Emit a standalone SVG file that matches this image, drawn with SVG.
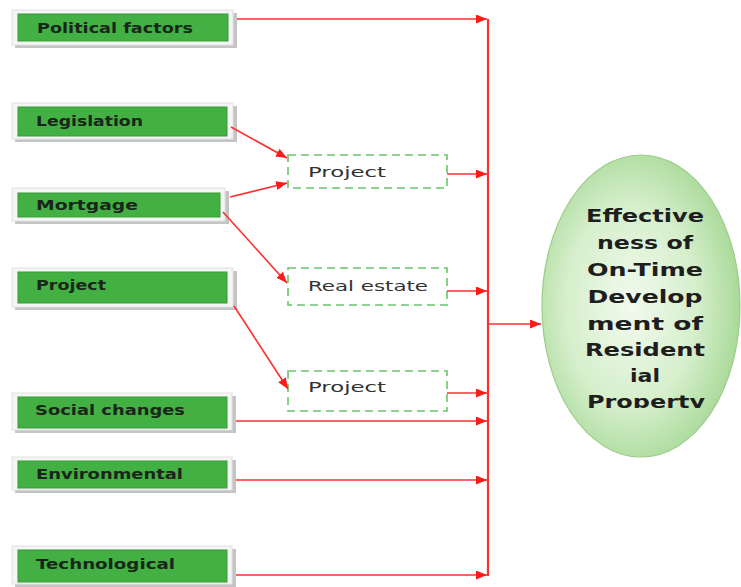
<svg xmlns="http://www.w3.org/2000/svg" width="741" height="587" viewBox="0 0 741 587">
  <style>
    .shadow { fill: #c4c4c4; }
    .frame { fill: #f5f5f5; stroke: #e2e2e2; stroke-width: 1; }
    .green { fill: #43b043; stroke: #379c37; stroke-width: 1; }
    .lbl { font-family: "DejaVu Sans", "Liberation Sans", sans-serif; font-size: 13.5px; font-weight: bold; fill: #1a261a; }
    .dash { fill: #ffffff; stroke: #6cc46c; stroke-width: 1.6; stroke-dasharray: 8 5; }
    .mid { font-family: "DejaVu Sans", "Liberation Sans", sans-serif; font-size: 14px; fill: #333333; }
    .link { fill: none; stroke: #ff2f2f; stroke-width: 1.6; }
    .trunk { fill: none; stroke: #ff2f2f; stroke-width: 2.2; }
    .goal { font-family: "DejaVu Sans", "Liberation Sans", sans-serif; font-size: 18px; font-weight: bold; fill: #1e1e1e; text-anchor: middle; }
  </style>
  <defs>
    <marker id="arrow" markerUnits="userSpaceOnUse" markerWidth="12" markerHeight="10" refX="11" refY="4.5" orient="auto">
      <path d="M0,0 L11,4.5 L0,9 Z" fill="#ff1a1a"/>
    </marker>
    <radialGradient id="goalFill" cx="0.45" cy="0.5" r="0.6">
      <stop offset="0" stop-color="#f2faee"/>
      <stop offset="0.55" stop-color="#d6efcc"/>
      <stop offset="1" stop-color="#9fd58e"/>
    </radialGradient>
    <!-- trims the descender of the last line -->
    <clipPath id="goalClip">
      <rect x="540" y="150" width="201" height="258"/>
    </clipPath>
  </defs>

  <rect width="741" height="587" fill="#ffffff"/>

  <!-- factor boxes -->
  <g id="political">
    <rect class="shadow" x="15" y="13" width="222" height="35"/>
    <rect class="frame" x="12" y="10" width="221" height="35"/>
    <rect class="green" x="18" y="14" width="210" height="27"/>
    <text class="lbl" x="37" y="33" textLength="156" lengthAdjust="spacingAndGlyphs">Political factors</text>
  </g>
  <g id="legislation">
    <rect class="shadow" x="15" y="106" width="222" height="36"/>
    <rect class="frame" x="12" y="103" width="221" height="36"/>
    <rect class="green" x="18" y="107" width="209" height="29"/>
    <text class="lbl" x="36" y="126" textLength="107" lengthAdjust="spacingAndGlyphs">Legislation</text>
  </g>
  <g id="mortgage">
    <rect class="shadow" x="15" y="191" width="214" height="33"/>
    <rect class="frame" x="12" y="188" width="213" height="33"/>
    <rect class="green" x="18" y="193" width="202" height="24"/>
    <text class="lbl" x="36" y="210" textLength="102" lengthAdjust="spacingAndGlyphs">Mortgage</text>
  </g>
  <g id="project-factor">
    <rect class="shadow" x="15" y="271" width="222" height="39"/>
    <rect class="frame" x="12" y="268" width="221" height="39"/>
    <rect class="green" x="18" y="272" width="209" height="31"/>
    <text class="lbl" x="36" y="290" textLength="70" lengthAdjust="spacingAndGlyphs">Project</text>
  </g>
  <g id="social">
    <rect class="shadow" x="15" y="396" width="221" height="37"/>
    <rect class="frame" x="12" y="393" width="220" height="37"/>
    <rect class="green" x="18" y="397" width="209" height="31"/>
    <text class="lbl" x="35" y="415" textLength="150" lengthAdjust="spacingAndGlyphs">Social changes</text>
  </g>
  <g id="environmental">
    <rect class="shadow" x="15" y="460" width="221" height="33"/>
    <rect class="frame" x="12" y="457" width="220" height="33"/>
    <rect class="green" x="18" y="461" width="209" height="27"/>
    <text class="lbl" x="36" y="479" textLength="147" lengthAdjust="spacingAndGlyphs">Environmental</text>
  </g>
  <g id="technological">
    <rect class="shadow" x="15" y="549" width="221" height="38"/>
    <rect class="frame" x="12" y="546" width="220" height="38"/>
    <rect class="green" x="18" y="550" width="209" height="32"/>
    <text class="lbl" x="36" y="569" textLength="139" lengthAdjust="spacingAndGlyphs">Technological</text>
  </g>

  <!-- intermediate dashed boxes -->
  <g id="project-a">
    <rect class="dash" x="288" y="155" width="159" height="33"/>
    <text class="mid" x="308" y="177" textLength="78" lengthAdjust="spacingAndGlyphs">Project</text>
  </g>
  <g id="real-estate">
    <rect class="dash" x="288" y="268" width="159" height="37"/>
    <text class="mid" x="308" y="291" textLength="120" lengthAdjust="spacingAndGlyphs">Real estate</text>
  </g>
  <g id="project-b">
    <rect class="dash" x="288" y="371" width="159" height="40"/>
    <text class="mid" x="308" y="392" textLength="78" lengthAdjust="spacingAndGlyphs">Project</text>
  </g>

  <!-- outcome ellipse -->
  <g id="outcome">
    <ellipse cx="641" cy="306" rx="99" ry="151" fill="url(#goalFill)" stroke="#9ccc8c" stroke-width="1.2"/>
    <text class="goal" x="645" y="222" textLength="118" lengthAdjust="spacingAndGlyphs">Effective</text>
    <text class="goal" x="645" y="249" textLength="96" lengthAdjust="spacingAndGlyphs">ness of</text>
    <text class="goal" x="645" y="276" textLength="116" lengthAdjust="spacingAndGlyphs">On-Time</text>
    <text class="goal" x="645" y="303" textLength="115" lengthAdjust="spacingAndGlyphs">Develop</text>
    <text class="goal" x="645" y="330" textLength="116" lengthAdjust="spacingAndGlyphs">ment of</text>
    <text class="goal" x="645" y="356" textLength="120" lengthAdjust="spacingAndGlyphs">Resident</text>
    <text class="goal" x="645" y="382" textLength="30" lengthAdjust="spacingAndGlyphs">ial</text>
    <text class="goal" x="646" y="408" textLength="118" lengthAdjust="spacingAndGlyphs" clip-path="url(#goalClip)">Property</text>
  </g>

  <!-- connectors -->
  <g id="connectors">
    <path class="trunk" d="M488,19 V576"/>
    <path class="link" d="M237,19 H487" marker-end="url(#arrow)"/>
    <path class="link" d="M231,127 L287,158" marker-end="url(#arrow)"/>
    <path class="link" d="M230,197 L287,183" marker-end="url(#arrow)"/>
    <path class="link" d="M223,212 L287,283" marker-end="url(#arrow)"/>
    <path class="link" d="M234,306 L288,389" marker-end="url(#arrow)"/>
    <path class="link" d="M447,174 H487" marker-end="url(#arrow)"/>
    <path class="link" d="M447,291 H487" marker-end="url(#arrow)"/>
    <path class="link" d="M447,393 H487" marker-end="url(#arrow)"/>
    <path class="link" d="M236,421 H487" marker-end="url(#arrow)"/>
    <path class="link" d="M236,480 H487" marker-end="url(#arrow)"/>
    <path class="link" d="M236,575 H487" marker-end="url(#arrow)"/>
    <path class="link" d="M488,324 H541" marker-end="url(#arrow)"/>
  </g>
</svg>
